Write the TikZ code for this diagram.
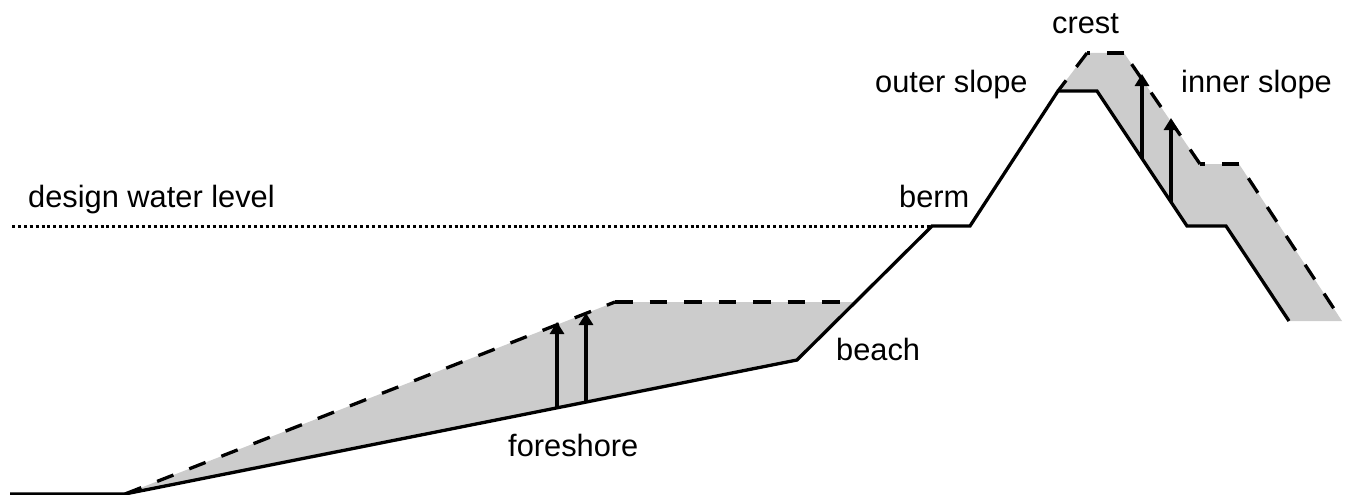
\documentclass[tikz,border=0pt]{standalone}
\usepackage{fontspec}
\setmainfont{Liberation Sans}
\usetikzlibrary{arrows.meta}
\tikzset{
  ground/.style={line width=3.3pt,black,line join=miter},
  newprofile/.style={line width=3.3pt,black,dash pattern=on 17.5pt off 17pt},
  gapfirst/.style={newprofile,dash phase=17.5pt},
  waterline/.style={line width=3pt,black,dash pattern=on 3pt off 2.9pt},
  sand/.style={fill=black!20,draw=none},
  rise/.style={line width=3.3pt,black,-{Triangle[length=12pt,width=14pt]}},
  lbl/.style={font=\fontsize{30.8}{34}\selectfont,inner sep=0pt,text=black}
}
\begin{document}
\begin{tikzpicture}[x=1pt,y=-1pt]
\useasboundingbox (0,0) rectangle (1349,495);
% ground profile
\coordinate (g0) at (10,494);
\coordinate (g1) at (125,494);
\coordinate (g2) at (797,360);
\coordinate (g3) at (932,226);
\coordinate (g4) at (970,226);
\coordinate (g5) at (1058,91);
\coordinate (g6) at (1097,91);
\coordinate (g7) at (1187,226);
\coordinate (g8) at (1226,226);
\coordinate (g9) at (1289,321);
% raised profiles
\coordinate (a1) at (615,302);
\coordinate (a2) at (853,302);
\coordinate (b1) at (1087,53);
\coordinate (b2) at (1124,53);
\coordinate (b3) at (1200,164);
\coordinate (b4) at (1239,164);
\coordinate (b5) at (1342,321);
\coordinate (wl) at (12,226);
% arrow ends
\coordinate (p1) at (557,407);
\coordinate (q1) at (557,322);
\coordinate (p2) at (586,402);
\coordinate (q2) at (586,313);
\coordinate (p3) at (1142,158);
\coordinate (q3) at (1142,74);
\coordinate (p4) at (1171,202);
\coordinate (q4) at (1171,118);
% fills
\path[sand] (g1) -- (a1) -- (a2) -- (g2) -- cycle;
\path[sand] (g5) -- (b1) -- (b2) -- (b3) -- (b4) -- (b5) -- (g9) -- (g8) -- (g7) -- (g6) -- cycle;
% lines
\draw[waterline] (wl) -- (g3);
\draw[newprofile] (g1) -- (a1);
\draw[newprofile] (a1) -- (a2);
\draw[newprofile] (b1) -- (g5);
\draw[newprofile] (b2) -- (b1);
\draw[newprofile] (b3) -- (b2);
\draw[newprofile] (b4) -- (b3);
\draw[gapfirst] (b4) -- (b5);
\draw[ground] (g0) -- (g1) -- (g2) -- (g3) -- (g4) -- (g5) -- (g6) -- (g7) -- (g8) -- (g9);
\draw[rise] (p1) -- (q1);
\draw[rise] (p2) -- (q2);
\draw[rise] (p3) -- (q3);
\draw[rise] (p4) -- (q4);
% labels
\node[lbl,anchor=base west] (t1) at (28,207) {design water level};
\node[lbl,anchor=base west] (t2) at (899,207) {berm};
\node[lbl,anchor=base west] (t3) at (875,92.5) {outer slope};
\node[lbl,anchor=base west] (t4) at (1052,33.5) {crest};
\node[lbl,anchor=base west] (t5) at (1181,92.5) {inner slope};
\node[lbl,anchor=base west] (t6) at (836,360) {beach};
\node[lbl,anchor=base west] (t7) at (508,456) {foreshore};
\end{tikzpicture}
\end{document}
